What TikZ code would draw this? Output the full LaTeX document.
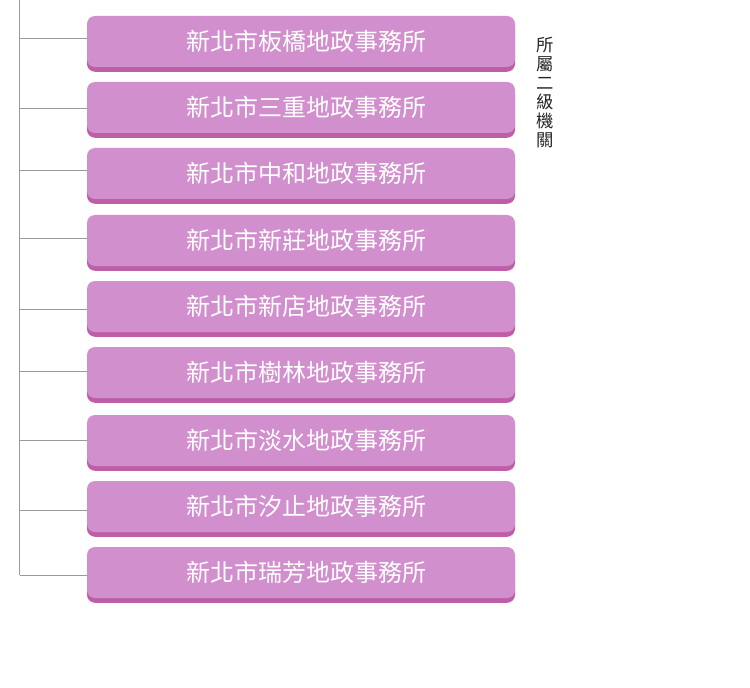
\documentclass[tikz,border=0pt]{standalone}
\usepackage{fontspec}
\usepackage{xcolor}
\usepackage{tikz}
\usetikzlibrary{shadows}
\newfontfamily\cjk{Noto Sans CJK TC}
\definecolor{officeface}{HTML}{D190CD}
\definecolor{officeedge}{HTML}{BE5EA8}
\definecolor{trunkgray}{HTML}{9A9A9A}

\tikzset{
  office/.style={rounded corners=6pt, fill=officeface,
    drop shadow={shadow xshift=0pt, shadow yshift=-3.6pt, fill=officeedge, opacity=1},
    minimum width=321pt, minimum height=38.25pt, inner sep=0pt,
    text=white, font=\cjk\fontsize{18}{20}\selectfont,
    execute at begin node=\hspace*{7.5pt}},
  branch/.style={draw=trunkgray, line width=0.75pt}
}

\begin{document}
\begin{tikzpicture}[x=0.75pt, y=-0.75pt]
            \useasboundingbox (0,0) rectangle (750,688);
            % offices
            \node[office] (banqiao) at (301,41.5) {新北市板橋地政事務所};
            \node[office] (sanchong) at (301,107.5) {新北市三重地政事務所};
            \node[office] (zhonghe) at (301,173.5) {新北市中和地政事務所};
            \node[office] (xinzhuang) at (301,240.5) {新北市新莊地政事務所};
            \node[office] (xindian) at (301,306.5) {新北市新店地政事務所};
            \node[office] (shulin) at (301,372.5) {新北市樹林地政事務所};
            \node[office] (tamsui) at (301,440.5) {新北市淡水地政事務所};
            \node[office] (xizhi) at (301,506.5) {新北市汐止地政事務所};
            \node[office] (ruifang) at (301,572.5) {新北市瑞芳地政事務所};
            % side label
            \node[align=center, inner sep=0pt, font=\cjk\fontsize{13}{14.25}\selectfont, text=black!85]
                (label) at (545,93) {所\\屬\\二\\級\\機\\關};
            % trunk
            \coordinate (top) at (19.5,0);
            \coordinate (t1) at (19.5,39);
            \coordinate (t2) at (19.5,109);
            \coordinate (t3) at (19.5,171);
            \coordinate (t4) at (19.5,239);
            \coordinate (t5) at (19.5,309);
            \coordinate (t6) at (19.5,371);
            \coordinate (t7) at (19.5,440);
            \coordinate (t8) at (19.5,510);
            \coordinate (t9) at (19.5,575);
            \draw[branch] (top) -- (t9);
            \draw[branch] (t1) -- (t1 -| banqiao.west);
            \draw[branch] (t2) -- (t2 -| sanchong.west);
            \draw[branch] (t3) -- (t3 -| zhonghe.west);
            \draw[branch] (t4) -- (t4 -| xinzhuang.west);
            \draw[branch] (t5) -- (t5 -| xindian.west);
            \draw[branch] (t6) -- (t6 -| shulin.west);
            \draw[branch] (t7) -- (t7 -| tamsui.west);
            \draw[branch] (t8) -- (t8 -| xizhi.west);
            \draw[branch] (t9) -- (t9 -| ruifang.west);
        \end{tikzpicture}
\end{document}
